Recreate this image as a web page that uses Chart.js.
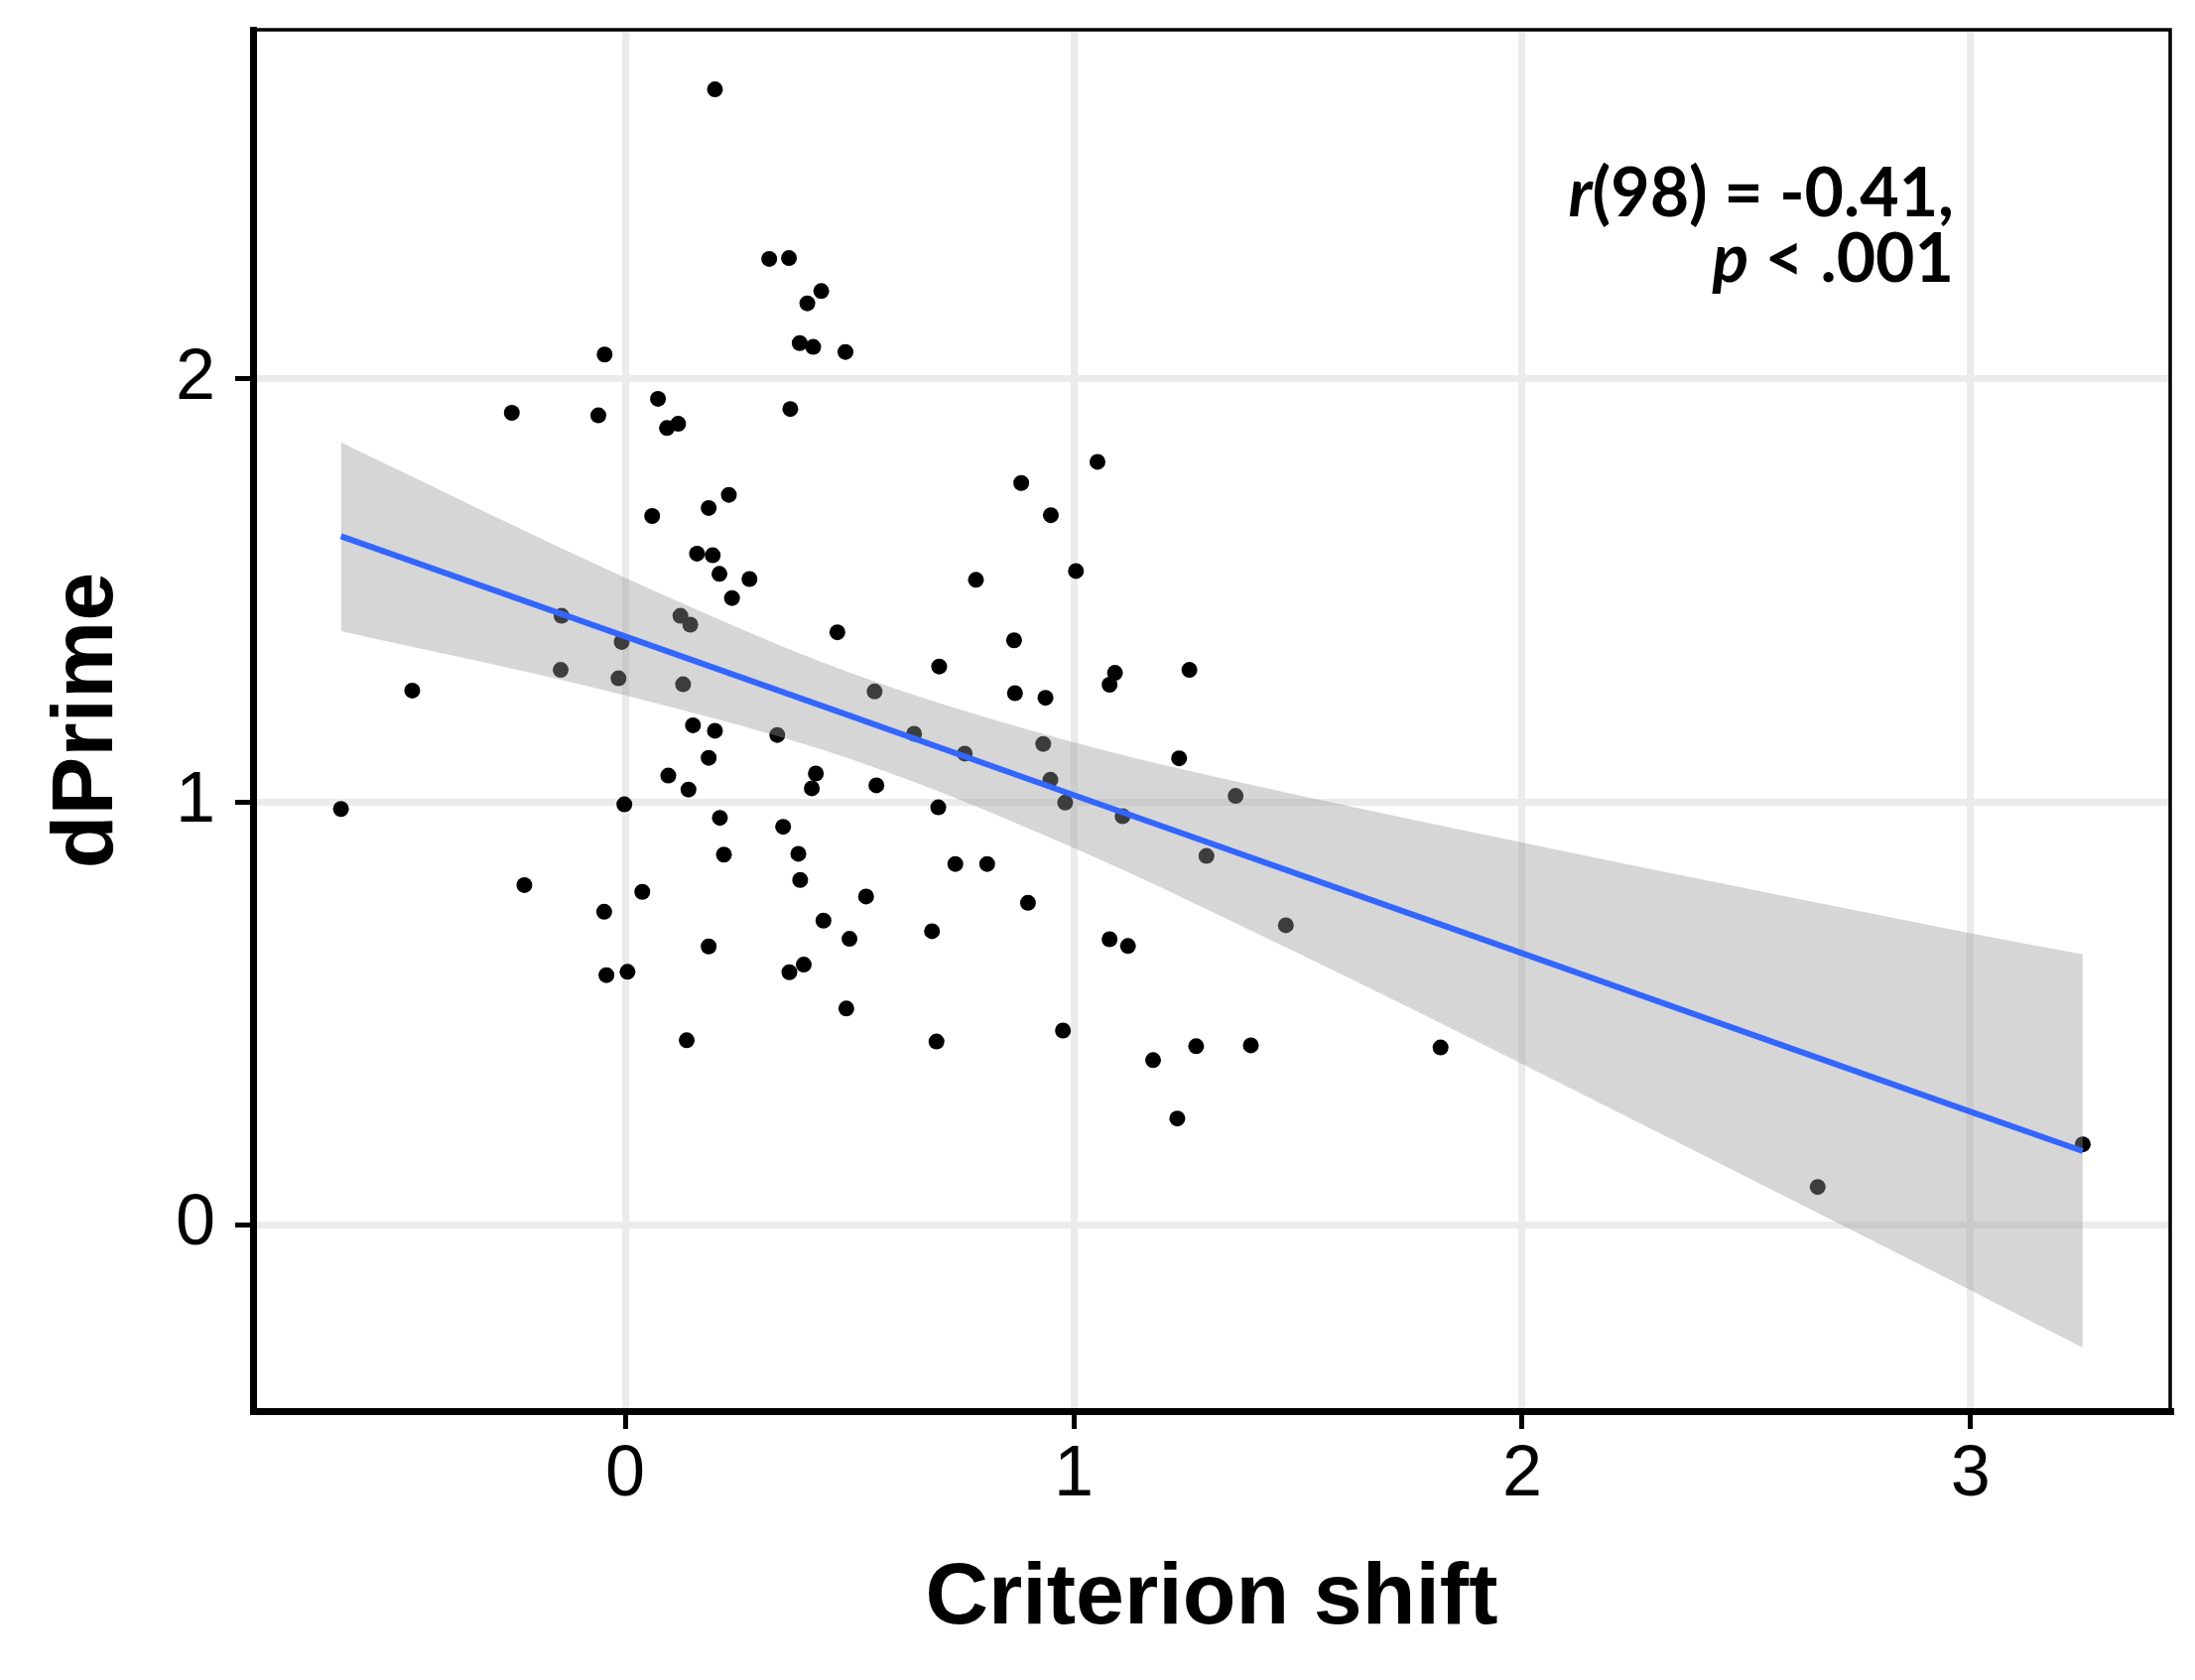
<!DOCTYPE html>
<html>
<head>
<meta charset="utf-8">
<title>dPrime vs criterion shift</title>
<script src="https://cdn.jsdelivr.net/npm/chart.js@4.4.1/dist/chart.umd.min.js"></script>
<style>
  html, body { margin: 0; padding: 0; background: #fff; }
  canvas { display: block; }
</style>
</head>
<body>
<canvas id="chart" width="2212" height="1693"></canvas>
<script>
// One point per participant.
var criterionShift = [
  0.200, 0.321, 0.365, 0.437, 0.406, 0.389, 0.419, 0.491, -0.046, -0.253,
  -0.060, 0.073, 0.093, 0.118, 0.368, 0.231, 0.186, 0.060, 0.160, 0.195,
  0.210, 0.277, 0.238, -0.142, 0.123, 0.145, 0.473, -0.008, -0.144, -0.015,
  0.129, -0.475, 0.151, 0.200, 0.339, 0.186, 0.425, 0.096, 0.416, 0.141,
  -0.634, -0.002, 0.211, 0.352, 0.220, 0.386, 0.390, -0.225, 0.038, -0.047,
  0.442, 0.500, 0.186, 0.398, 0.366, -0.042, 0.005, 0.493, 0.137, 1.053,
  0.883, 0.949, 1.005, 0.782, 0.867, 0.700, 1.092, 1.080, 1.258, 0.556,
  0.869, 0.937, 0.644, 0.757, 0.932, 1.235, 0.948, 0.560, 1.361, 0.981,
  0.698, 1.109, 1.296, 1.473, 0.736, 0.807, 0.537, 0.898, 0.684, 1.080,
  1.121, 0.694, 0.976, 1.177, 1.273, 1.395, 1.231, 1.818, 2.659, 3.250
];
var dPrime = [
  2.685, 2.284, 2.286, 2.208, 2.179, 2.085, 2.076, 2.064, 2.058, 1.920,
  1.914, 1.953, 1.884, 1.894, 1.929, 1.726, 1.695, 1.676, 1.587, 1.583,
  1.539, 1.527, 1.482, 1.440, 1.440, 1.419, 1.401, 1.378, 1.312, 1.292,
  1.278, 1.263, 1.181, 1.168, 1.158, 1.104, 1.067, 1.062, 1.032, 1.029,
  0.983, 0.994, 0.962, 0.941, 0.875, 0.877, 0.815, 0.803, 0.787, 0.740,
  0.719, 0.676, 0.658, 0.615, 0.597, 0.590, 0.598, 0.511, 0.436, 1.804,
  1.754, 1.678, 1.546, 1.525, 1.382, 1.320, 1.305, 1.277, 1.312, 1.261,
  1.257, 1.246, 1.161, 1.114, 1.137, 1.103, 1.052, 1.039, 1.014, 0.998,
  0.987, 0.966, 0.872, 0.708, 0.853, 0.853, 0.776, 0.761, 0.694, 0.675,
  0.659, 0.433, 0.459, 0.389, 0.422, 0.424, 0.251, 0.419, 0.089, 0.190
];

// Regression line and its confidence band, read at a few x positions.
var fitX = [-0.634, 0, 0.5, 1, 1.5, 2, 2.5, 3, 3.25];
var fitY = [1.628, 1.391, 1.204, 1.016, 0.829, 0.642, 0.454, 0.267, 0.174];
var bandLow = [1.404, 1.252, 1.102, 0.891, 0.642, 0.380, 0.113, -0.155, -0.291];
var bandHigh = [1.850, 1.530, 1.306, 1.141, 1.016, 0.904, 0.795, 0.689, 0.639];

var xTicks = [0, 1, 2, 3];
var yTicks = [0, 1, 2];
var xRange = [-0.83, 3.445];
var yRange = [-0.441, 2.826];

// [italic part, plain part]
var statLine1 = ['r', '(98) = -0.41,'];
var statLine2 = ['p', ' < .001'];

var labelFont = 'Liberation Sans, Arial, Helvetica, sans-serif';
var statFont = 'Lato, "Noto Sans", sans-serif';

function toPoints(xs, ys) {
  var pts = [];
  for (var i = 0; i < xs.length; i++) {
    pts.push({x: xs[i], y: ys[i]});
  }
  return pts;
}

function fixedTicks(values) {
  return function(scale) {
    scale.ticks = values.map(function(v) { return {value: v}; });
  };
}

// Thin frame round the panel (ggplot panel.border).
var panelBorder = {
  id: 'panelBorder',
  afterDraw: function(chart) {
    var a = chart.chartArea;
    var ctx = chart.ctx;
    ctx.save();
    ctx.strokeStyle = '#000';
    ctx.lineWidth = 3.5;
    ctx.strokeRect(a.left, a.top, a.right - a.left, a.bottom - a.top);
    ctx.restore();
  }
};

// Right-aligned line with an italic first run.
function drawStatLine(ctx, parts, right, baseline) {
  var italic = 'italic bold 68px ' + statFont;
  var plain = 'bold 68px ' + statFont;
  ctx.font = plain;
  var w2 = ctx.measureText(parts[1]).width;
  ctx.font = italic;
  var w1 = ctx.measureText(parts[0]).width;
  var x = right - w1 - w2;
  ctx.fillText(parts[0], x, baseline);
  ctx.font = plain;
  ctx.fillText(parts[1], x + w1, baseline);
}

var statLabel = {
  id: 'statLabel',
  afterDraw: function(chart) {
    var a = chart.chartArea;
    var ctx = chart.ctx;
    ctx.save();
    ctx.fillStyle = '#000';
    ctx.textAlign = 'left';
    ctx.textBaseline = 'alphabetic';
    drawStatLine(ctx, statLine1, a.right - 218, a.top + 188);
    drawStatLine(ctx, statLine2, a.right - 218, a.top + 254);
    ctx.restore();
  }
};

new Chart(document.getElementById('chart'), {
  type: 'scatter',
  data: {
    datasets: [
      {
        type: 'line',
        data: toPoints(fitX, fitY),
        borderColor: '#3366FF',
        borderWidth: 6,
        pointRadius: 0,
        fill: false,
        order: 0
      },
      {
        type: 'line',
        data: toPoints(fitX, bandLow),
        borderColor: 'rgba(0,0,0,0)',
        borderWidth: 0,
        pointRadius: 0,
        fill: false,
        cubicInterpolationMode: 'monotone',
        order: 1
      },
      {
        type: 'line',
        data: toPoints(fitX, bandHigh),
        borderColor: 'rgba(0,0,0,0)',
        borderWidth: 0,
        pointRadius: 0,
        fill: '-1',
        backgroundColor: 'rgba(153,153,153,0.4)',
        cubicInterpolationMode: 'monotone',
        order: 1
      },
      {
        data: toPoints(criterionShift, dPrime),
        backgroundColor: '#000',
        borderColor: '#000',
        borderWidth: 0,
        pointRadius: 8,
        order: 2
      }
    ]
  },
  options: {
    responsive: false,
    animation: false,
    devicePixelRatio: 1,
    layout: { padding: { top: 30, right: 25, left: 0, bottom: 0 } },
    plugins: {
      legend: { display: false },
      tooltip: { enabled: false }
    },
    scales: {
      x: {
        type: 'linear',
        min: xRange[0],
        max: xRange[1],
        afterBuildTicks: fixedTicks(xTicks),
        afterFit: function(scale) {
          scale.height = 271;
          scale.paddingLeft = 0;
          scale.paddingRight = 0;
        },
        grid: { color: '#ebebeb', lineWidth: 7, tickColor: '#000', tickLength: 18, tickWidth: 5 },
        border: { color: '#000', width: 7 },
        ticks: { color: '#000', font: { family: labelFont, size: 72 }, padding: 4, maxRotation: 0 },
        title: {
          display: true,
          text: 'Criterion shift',
          color: '#000',
          font: { family: labelFont, size: 88, weight: 'bold', lineHeight: 1 },
          padding: { top: 0, bottom: 37 }
        }
      },
      y: {
        type: 'linear',
        min: yRange[0],
        max: yRange[1],
        afterBuildTicks: fixedTicks(yTicks),
        afterFit: function(scale) {
          scale.width = 255;
          scale.paddingTop = 0;
          scale.paddingBottom = 0;
        },
        grid: { color: '#ebebeb', lineWidth: 7, tickColor: '#000', tickLength: 18, tickWidth: 5 },
        border: { color: '#000', width: 7 },
        ticks: { color: '#000', font: { family: labelFont, size: 72 }, padding: 20 },
        title: {
          display: true,
          text: 'dPrime',
          color: '#000',
          font: { family: labelFont, size: 88, weight: 'bold', lineHeight: 1 },
          padding: { top: 45, bottom: 0 }
        }
      }
    }
  },
  plugins: [panelBorder, statLabel]
});
</script>
</body>
</html>
